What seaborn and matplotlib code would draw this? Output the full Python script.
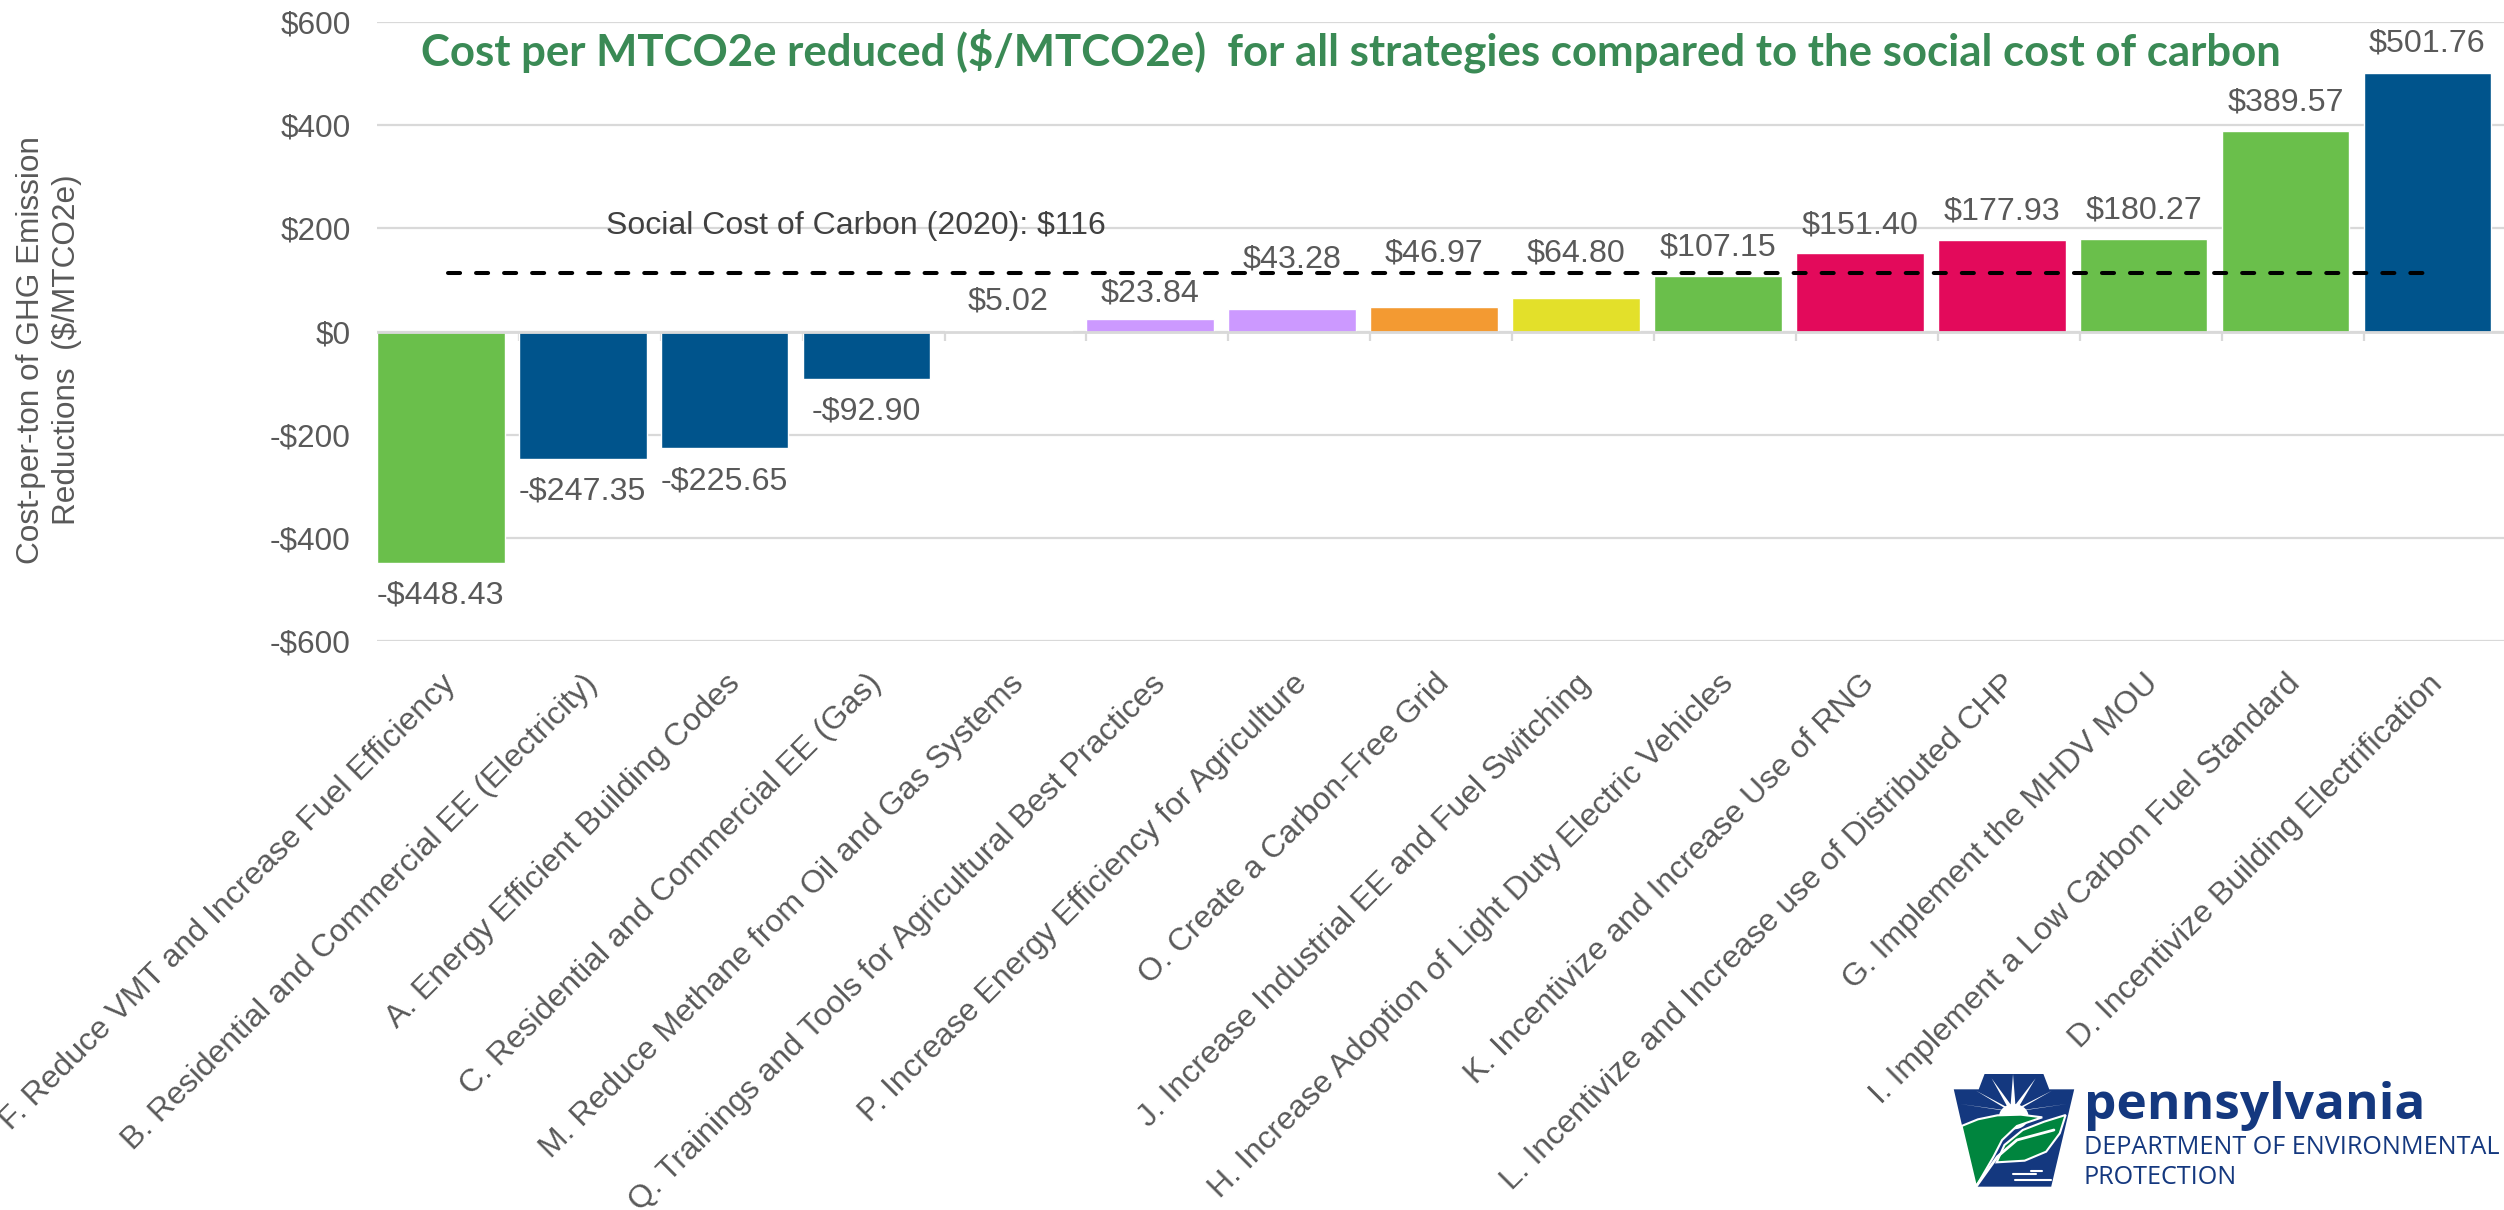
import matplotlib
matplotlib.use("Agg")
import matplotlib.pyplot as plt
from matplotlib.patches import Polygon, Circle
import pandas as pd
import seaborn as sns

W, H = 2504, 1210
GREEN, BLUE, PURPLE, ORANGE, YELLOW, RED = "#6ABF4B", "#00548C", "#CC99FF", "#F39A32", "#E3E02A", "#E30A5B"
GREY, GRID = "#595959", "#D9D9D9"

strategies = ["F. Reduce VMT and Increase Fuel Efficiency",
              "B. Residential and Commercial EE (Electricity)",
              "A. Energy Efficient Building Codes",
              "C. Residential and Commercial EE (Gas)",
              "M. Reduce Methane from Oil and Gas Systems",
              "Q. Trainings and Tools for Agricultural Best Practices",
              "P. Increase Energy Efficiency for Agriculture",
              "O. Create a Carbon-Free Grid",
              "J. Increase Industrial EE and Fuel Switching",
              "H. Increase Adoption of Light Duty Electric Vehicles",
              "K. Incentivize and Increase Use of RNG",
              "L. Incentivize and Increase use of Distributed CHP",
              "G. Implement the MHDV MOU",
              "I. Implement a Low Carbon Fuel Standard",
              "D. Incentivize Building Electrification"]
costs = [-448.43, -247.35, -225.65, -92.90, 5.02, 23.84, 43.28, 46.97, 64.80,
         107.15, 151.40, 177.93, 180.27, 389.57, 501.76]
bar_colors = [GREEN, BLUE, BLUE, BLUE, "#FFFFFF", PURPLE, PURPLE, ORANGE, YELLOW,
              GREEN, RED, RED, GREEN, GREEN, BLUE]
# vertical position of each value label, in axis units
label_levels = [-512, -310, -291, -155, 58, 74, 140, 151, 151, 163, 205, 233, 235, 444, 558]
y_ticks = [600, 400, 200, 0, -200, -400, -600]
scc_level = 113


def money(v, decimals=0):
    return ("-" if v < 0 else "") + f"${abs(v):,.{decimals}f}"


def fx(px):
    return px / W


def fy(py):
    return 1 - py / H


sns.set_theme(style="white")
plt.rcParams["font.family"] = ["Liberation Sans", "DejaVu Sans"]

fig = plt.figure(figsize=(W / 100, H / 100), dpi=100, facecolor="white")
ax = fig.add_axes([fx(377), fy(641), fx(2504 - 377), fy(22) - fy(641)])

df = pd.DataFrame({"strategy": strategies, "cost": costs})
sns.barplot(data=df, x="strategy", y="cost", hue="strategy", palette=bar_colors,
            width=0.9, saturation=1, dodge=False, legend=False, ax=ax, zorder=2)

ax.set_xlim(-0.45, 14.54)
ax.set_ylim(-600, 600)
ax.set_xlabel("")
ax.set_ylabel("")
sns.despine(ax=ax, left=True, bottom=True, top=True, right=True)

ax.set_yticks(y_ticks)
ax.set_yticklabels([money(v) for v in y_ticks])
ax.tick_params(axis="y", length=0, pad=19, labelsize=22.7, labelcolor=GREY)
ax.yaxis.grid(True, color=GRID, linewidth=1.6)
ax.xaxis.grid(False)
ax.set_axisbelow(True)

ax.set_xticks(range(len(strategies)))
ax.set_xticklabels(strategies, rotation=45, ha="right", va="top", rotation_mode="anchor")
ax.tick_params(axis="x", length=0, pad=20, labelsize=23, labelcolor=GREY)

ax.vlines([i - 0.45 for i in range(len(strategies))], -19, 0, color=GRID, linewidth=1.6, zorder=1)
ax.axhline(0, color=GRID, linewidth=2.0, zorder=3)

sns.lineplot(x=[0.05, 13.98], y=[scc_level, scc_level], color="black", linewidth=2.9,
             linestyle=(0, (3.0, 3.96)), dash_capstyle="round", ax=ax, zorder=4)

for i, (v, lvl) in enumerate(zip(costs, label_levels)):
    ax.text(i, lvl, money(v, 2), ha="center", va="center", fontsize=23.2, color=GREY, zorder=5)

fig.text(fx(856), fy(226), "Social Cost of Carbon (2020): $116", ha="center", va="center",
         fontsize=23, color="#404040", zorder=6)
fig.text(fx(1351), fy(51), "Cost per MTCO2e reduced ($/MTCO2e)  for all strategies compared to the social cost of carbon",
         ha="center", va="center", fontsize=31.5, color="#3A8A55", fontweight="bold",
         family=["Lato", "DejaVu Sans"], zorder=6)
fig.text(fx(31), fy(350), "Cost-per-ton of GHG Emission", rotation=90, ha="center", va="center",
         fontsize=22.7, color=GREY)
fig.text(fx(67), fy(350), "Reductions  ($/MTCO2e)", rotation=90, ha="center", va="center",
         fontsize=22.7, color=GREY)

# Logo
LOGO_BLUE, LOGO_GREEN = "#14387F", "#00853E"
lx0, lx1, ly0, ly1 = 1900 + 130 / 2.566, 1900 + 460 / 2.566, 1000 + 215 / 3, 1000 + 570 / 3
lg = fig.add_axes([fx(lx0), fy(ly1), fx(lx1 - lx0), fy(ly0) - fy(ly1)])
lg.set_xlim(130, 460)
lg.set_ylim(570, 215)
lg.axis("off")
lg.add_patch(Polygon([(217, 222), (368, 222), (383, 268), (447, 268), (388, 560), (195, 560),
                      (138, 268), (202, 268)], fc=LOGO_BLUE, ec="none"))
for tip, w in [((290, 222), 5), ((235, 235), 5), ((348, 235), 5), ((195, 272), 4),
               ((390, 272), 4), ((155, 312), 4), ((428, 312), 4)]:
    lg.add_patch(Polygon([tip, (290 - w * 1.5, 335), (290 + w * 1.5, 335)], fc="white", ec="none"))
lg.add_patch(Circle((292, 350), 38, fc="white", ec="none"))
lg.add_patch(Polygon([(158, 378), (200, 358), (250, 346), (310, 344), (365, 352), (300, 378),
                      (262, 420), (240, 470), (195, 560)], fc=LOGO_GREEN, ec="white", lw=1.5))
lg.add_patch(Polygon([(425, 345), (410, 400), (375, 455), (320, 482), (248, 487), (268, 435),
                      (315, 390), (370, 365)], fc=LOGO_GREEN, ec="white", lw=1.5))
for a, b in [((290, 522), (350, 522)), ((295, 540), (388, 540)), ((335, 512), (365, 512))]:
    lg.plot([a[0], b[0]], [a[1], b[1]], color="white", lw=1.5)
lg.plot([195, 250, 300, 395], [560, 470, 420, 390], color="white", lw=2)

fig.text(fx(2084), fy(1119), "pennsylvania", ha="left", va="baseline", fontsize=37,
         fontweight="bold", color=LOGO_BLUE, family=["Open Sans", "DejaVu Sans"])
fig.text(fx(2084), fy(1147), "DEPARTMENT OF ENVIRONMENTAL", ha="left", va="center", fontsize=18.1,
         color=LOGO_BLUE, family=["Open Sans", "DejaVu Sans"])
fig.text(fx(2084), fy(1177), "PROTECTION", ha="left", va="center", fontsize=18.1,
         color=LOGO_BLUE, family=["Open Sans", "DejaVu Sans"])

fig.savefig("out.png", dpi=100, facecolor="white")
